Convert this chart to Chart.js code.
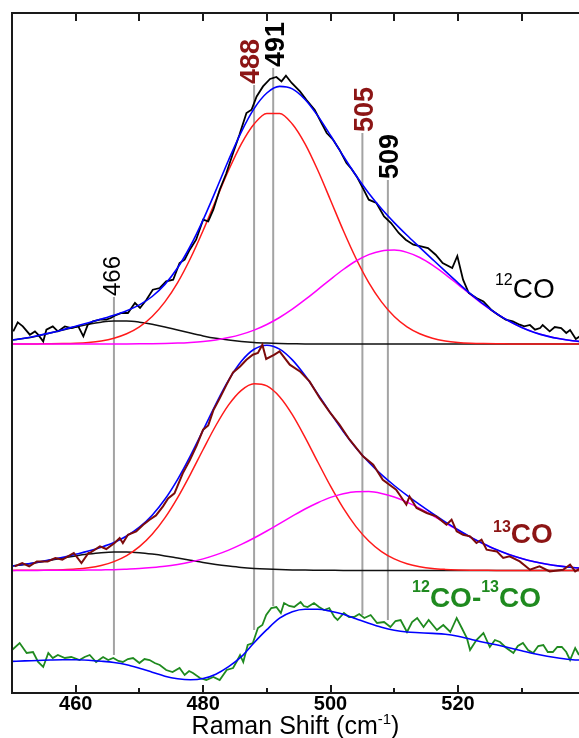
<!DOCTYPE html>
<html><head><meta charset="utf-8">
<script src="https://cdn.jsdelivr.net/npm/chart.js@4"></script>
<style>html,body{margin:0;padding:0;background:#fff}canvas{display:block}</style>
</head><body>
<canvas id="c" width="579" height="738"></canvas>
<script>
// ---------------- data ----------------
const xRange = [450, 539];
const xTicks = [460, 480, 500, 520];
const xMinorTicks = [470, 490, 510, 530];
const xTitle = ['Raman Shift (cm', '-1', ')'];

// vertical offsets of the stacked spectra (arbitrary intensity units)
const co12Offset = 349;
const co13Offset = 122.6;

// sampling grid of the fitted curves
const fitX = [450,452,454,456,458,460,462,464,466,468,470,472,474,476,478,480,482,484,486,488,
              490,492,494,496,498,500,502,504,506,508,510,512,514,516,518,520,522,524,526,528,
              530,532,534,536,538,540];

// 12CO fit components
const co12Red = [0,0,0.1,0.2,0.4,0.8,1.6,3.1,5.8,10.2, 17.1,27.5,42.1,61.4,85.5,113.5,143.8,173.7,200.1,220,
                 230.6,230.6,220,200.1,173.7,143.8,113.5,85.5,61.4,42.1, 27.5,17.1,10.2,5.8,3.1,1.6,0.8,0.4,0.2,0.1,
                 0,0,0,0,0,0];
const co12Mag = [0,0,0,0,0,0,0,0,0,0.1, 0.2,0.3,0.5,0.9,1.6,2.6,4.1,6.4,9.6,13.9,
                 19.5,26.5,34.8,44.3,54.4,64.7,74.5,83.0,89.4,93.1, 93.9,91.6,86.5,78.9,69.7,59.6,49.3,39.4,30.5,22.9,
                 16.6,11.6,7.9,5.2,3.3,2.0];
const co12Blk = [3.9,5.7,8.1,10.9,13.9,17.0,19.7,21.8,22.9,22.9, 21.8,19.7,17.0,13.9,10.9,8.1,5.7,3.9,2.5,1.5,
                 0.9,0.5,0.3,0.1,0,0,0,0,0,0, 0,0,0,0,0,0,0,0,0,0, 0,0,0,0,0,0];
const co12Fit = [3.9,5.7,8.2,11.1,14.3,17.8,21.3,24.9,28.7,33.2, 39.1,47.5,59.6,76.2,98.0,124.2,153.6,184.0,212.2,235.4,
                 251.0,257.6,255.1,244.5,228.1,208.5,188.0,168.5,150.8,135.2, 121.4,108.7,96.7,84.7,72.8,61.2,50.1,39.8,30.7,23.0,
                 16.6,11.6,7.9,5.2,3.3,2.0];

// 13CO fit components
const co13Red = [0,0.1,0.1,0.3,0.7,1.4,2.7,5.0,8.8,14.8, 23.7,36.1,52.5,72.8,96.1,120.9,144.9,165.5,180.1,186.7,
                 184.5,173.7,155.8,133.1,108.4,84.2,62.2,43.8,29.4,18.8, 11.5,6.7,3.7,1.9,1.0,0.5,0.2,0.1,0,0,
                 0,0,0,0,0,0];
const co13Mag = [0,0,0,0.1,0.1,0.2,0.3,0.5,0.7,1.2, 1.8,2.8,4.1,6.0,8.4,11.5,15.5,20.3,26.0,32.4,
                 39.4,46.8,54.2,61.4,67.7,73.0,76.7,78.7,78.8,77.0, 73.4,68.3,62.0,55.0,47.5,40.1,33.0,26.6,20.8,15.9,
                 11.9,8.7,6.2,4.3,2.9,1.9];
const co13Blk = [4.4,6.0,7.9,10.1,12.3,14.5,16.3,17.7,18.4,18.4, 17.7,16.3,14.5,12.3,10.1,7.9,6.0,4.4,3.0,2.0,
                 1.3,0.8,0.5,0.3,0.2,0.1,0,0,0,0, 0,0,0,0,0,0,0,0,0,0, 0,0,0,0,0,0];
const co13Fit = [4.4,6.1,8.1,10.5,13.1,16.1,19.3,23.2,27.9,34.4, 43.2,55.2,71.1,91.1,114.6,140.3,166.4,190.2,209.1,221.1,
                 225.2,221.3,210.5,194.8,176.3,157.3,138.9,122.5,108.2,95.8, 84.9,75.0,65.7,56.9,48.5,40.6,33.2,26.7,20.8,15.9,
                 11.9,8.7,6.2,4.3,2.9,1.9];

// difference spectrum fit
const diffFit = [31.6,32.1,32.5,33,33.3,33.3,32.8,31.8,30.5,28.3, 24.8,20.8,16.8,14.3,13.3,14.5,18.8,26.3,36.3,50.3,
                 63.3,74.8,81.3,83.8,83.8,81.8,78.8,74.3,69.8,65.8, 62.8,61,60.3,59.6,58.8,56.8,53.8,50.8,48.3,45.3,
                 42.3,39.3,36.8,34.8,33.3,32.8];

// measured spectra [Raman shift, intensity]
const co12Data = [[450.2,12.6],[450.9,21.6],[451.7,17.6],[452.8,9.3],[453.6,12.6],[454.1,9.3],[454.9,2.6],[455.4,14.3],
  [456.4,17.6],[457.2,12.6],[458.3,17.6],[459.3,16],[460.4,17.6],[461.2,7.6],[461.9,19.3],[462.7,22.6],[463.8,24.3],
  [464.8,24.3],[465.5,26],[466.1,28.3],[467.2,31],[468.2,31],[469.3,41],[470.1,36],[471.1,44.3],[472.1,54.3],[473.2,56],
  [474.2,62.6],[475.3,64.3],[476.3,81],[477.1,84.3],[477.9,94.3],[478.9,104.3],[480.0,124.3],[480.8,122.6],[481.6,134.3],
  [482.6,154.3],[483.6,170],[484.7,191],[485.7,209.3],[486.8,231],[487.6,234.3],[488.4,247.6],[489.4,257.6],[490.5,265],
  [491.5,267],[492.3,262.6],[493.0,268.3],[493.9,261],[495.2,252.6],[496.2,244.3],[497.5,234.3],[498.5,222],[499.4,211],
  [500.4,204.3],[501.4,194.3],[502.5,181],[503.3,175],[504.1,167.6],[505.2,154.3],[506.0,144.3],[507.2,141],[508.4,127.6],
  [509.5,121],[510.7,111],[511.8,104.3],[513.0,99.3],[514.2,97.6],[515.3,96],[516.5,89.3],[517.6,81],[519.1,76],[519.9,88],
  [520.8,64.3],[521.7,51],[522.9,46],[524.0,42.6],[525.2,34.3],[526.3,29.3],[527.5,24.3],[528.6,22.6],[529.7,19.3],
  [530.4,17.6],[531.3,19],[532.1,14.3],[532.9,16],[533.3,19],[534.4,12.6],[535.2,17],[536.2,16],[537.0,11],[537.6,14],[538.5,5],[539.2,8]];

const co13Data = [[450.4,4],[451.6,7.4],[452.7,4],[453.9,9],[455.6,9],[456.8,12.4],[457.9,10.7],[459.7,17.4],[460.9,7.4],
  [462.0,17.4],[462.2,17.4],[463.8,24],[464.8,21.4],[466.1,27.4],[466.9,32.4],[467.4,27.4],[468.2,35.7],[469.5,39],
  [470.6,45.7],[471.6,50.7],[472.6,55],[473.7,64],[474.5,72],[475.5,77],[476.8,97],[477.9,110],[479.0,125],[480.0,140.7],
  [480.8,145],[481.6,160],[482.6,172],[483.7,186],[484.7,198],[485.8,204],[486.8,210.7],[487.8,215.7],[488.6,217.4],
  [489.3,225.7],[489.9,211.4],[491.2,215.7],[492.0,219],[493.6,205.7],[495.2,199],[496.7,189],[498.3,172.4],[499.9,158],
  [501.4,145.7],[503.0,130.7],[505.1,114],[506.7,105.7],[508.2,90.7],[510.3,80.7],[511.9,65.7],[512.4,74],[513.5,62.4],
  [515.1,57.4],[516.6,54],[518.2,45.7],[519.0,50.7],[519.8,39],[520.8,35.7],[521.9,34],[522.9,27.4],[523.7,30.7],
  [524.5,20.7],[526.1,19],[527.1,12.4],[528.1,14],[529.7,9],[531.3,0.7],[532.8,4],[534.4,-1],[536.5,0.7],[537.6,5.7],[538.4,-1],[539.2,2]];

const diffData = [[450.0,43],[451.2,50],[452.3,40],[453.3,41],[454.1,31],[454.9,26],[455.7,40],[456.4,35],[457.2,38],
  [458.3,35],[459.3,36],[460.6,33],[461.4,36],[462.2,38],[463.2,31],[464.3,36],[465.1,33],[465.9,35],[466.7,32],
  [467.4,31],[468.2,34],[469.0,35],[470.0,30],[470.8,34],[471.6,33],[472.4,30],[473.2,28],[474.2,23],[475.2,21],
  [476.3,25],[477.1,18],[477.8,22],[478.4,20],[479.5,15],[480.5,13],[481.6,16],[482.6,13],[483.7,23],[484.7,25],
  [485.4,33],[485.8,38],[486.3,31],[487.0,48],[487.8,50],[488.6,65],[489.3,68],[489.9,78],[490.7,85],[491.5,86],
  [492.2,80],[492.7,90],[493.5,87],[494.3,86],[495.3,91],[495.8,87],[496.4,86],[497.4,90],[498.2,86],[499.0,83],
  [499.8,85],[500.6,76],[501.1,73],[502.1,80],[502.9,76],[503.7,76],[504.5,79],[505.3,75],[506.3,78],[507.3,70],
  [508.4,71],[509.4,66],[510.2,72],[511.0,73],[512.0,61],[512.8,71],[513.6,75],[514.6,66],[515.4,73],[516.7,63],
  [517.7,68],[518.8,61],[519.8,75],[520.6,65],[521.4,55],[521.9,43],[522.9,53],[524.0,60],[525.0,46],[525.8,53],
  [526.6,51],[527.6,45],[528.7,40],[529.4,47],[530.2,50],[531.0,43],[531.8,40],[532.6,47],[533.4,48],[534.1,41],
  [534.9,41],[535.6,46],[536.3,46],[537.0,41],[537.6,33],[538.4,45],[539.0,38]];

// peak markers: position, label, vertical extent (intensity units)
const peakPos = [466, 488, 491, 505, 509];
const peakLabels = ['466', '488', '491', '505', '509'];
const peakTop = [396, 608, 625, 560, 513];
const peakBottom = [38, 63, 87, 78, 73];

// ---------------- styles / layout ----------------
const FONT = "'Liberation Sans', Arial, Helvetica, sans-serif";
const C_RED = '#ff1a1a', C_MAG = '#ff00ff', C_BLUE = '#0000ff', C_BLK = '#111111';
const C_DRED = '#7c0b0b', C_LRED = '#8c1515', C_GREEN = '#1f8a1f', C_GRAY = '#a3a3a3';
const peakStyle = [
  {dx: -2.6, size: 24, weight: 'normal', color: '#000'},
  {dx: -5, size: 27, weight: 'bold', color: C_LRED},
  {dx: 1.6, size: 27, weight: 'bold', color: '#000'},
  {dx: 0.8, size: 27, weight: 'bold', color: C_LRED},
  {dx: 0.3, size: 27, weight: 'bold', color: '#000'}
];
const seriesLabels = [
  {x: 525.8, y: 395, color: '#000', weight: 'normal', parts: [['12', 16, -13], ['CO', 28, 0]]},
  {x: 525.5, y: 150, color: C_LRED, weight: 'bold', parts: [['13', 16, -11], ['CO', 28, 0]]},
  {x: 512.8, y: 86, color: C_GREEN, weight: 'bold', parts: [['12', 16, -15], ['CO-', 28, 0], ['13', 16, -15], ['CO', 28, 0]]}
];

const curve = (xs, ys, off) => xs.map((x, i) => ({x: x, y: ys[i] + off}));
const pts = (arr, off) => arr.map(p => ({x: p[0], y: p[1] + off}));

function smooth(data, color, width, order) {
  return {data, borderColor: color, borderWidth: width, pointRadius: 0, fill: false,
          cubicInterpolationMode: 'monotone', order};
}
function noisy(data, color, width, order) {
  return {data, borderColor: color, borderWidth: width, pointRadius: 0, fill: false, tension: 0, order};
}

const datasets = [];
peakPos.forEach((p, i) => {
  datasets.push({data: [{x: p, y: peakBottom[i]}, {x: p, y: peakTop[i]}], borderColor: C_GRAY,
                 borderWidth: 2, pointRadius: 0, fill: false, order: 100});
});
datasets.push(smooth(curve(fitX, co12Blk, co12Offset), C_BLK, 1.5, 90));
datasets.push(smooth(curve(fitX, co12Red, co12Offset), C_RED, 1.5, 85));
datasets.push(smooth(curve(fitX, co12Mag, co12Offset), C_MAG, 1.5, 80));
datasets.push(noisy(pts(co12Data, co12Offset), '#000', 1.8, 60));
datasets.push(smooth(curve(fitX, co12Fit, co12Offset), C_BLUE, 1.6, 55));
datasets.push(smooth(curve(fitX, co13Blk, co13Offset), C_BLK, 1.5, 90));
datasets.push(smooth(curve(fitX, co13Red, co13Offset), C_RED, 1.5, 85));
datasets.push(smooth(curve(fitX, co13Mag, co13Offset), C_MAG, 1.5, 80));
datasets.push(smooth(curve(fitX, co13Fit, co13Offset), C_BLUE, 1.6, 58));
datasets.push(noisy(pts(co13Data, co13Offset), C_DRED, 2, 50));
datasets.push(noisy(pts(diffData, 0), C_GREEN, 1.8, 60));
datasets.push(smooth(curve(fitX, diffFit, 0), C_BLUE, 1.6, 55));

const decor = {
  id: 'decor',
  afterDraw(chart) {
    const ctx = chart.ctx, a = chart.chartArea;
    const xs = chart.scales.x, ys = chart.scales.y;
    ctx.save();
    // frame
    ctx.strokeStyle = '#1a1a1a'; ctx.lineWidth = 2;
    ctx.beginPath();
    ctx.moveTo(a.right + 2, a.top); ctx.lineTo(a.left, a.top); ctx.lineTo(a.left, a.bottom); ctx.lineTo(a.right + 2, a.bottom);
    ctx.stroke();
    // ticks (inward)
    ctx.lineWidth = 2;
    ctx.beginPath();
    xTicks.forEach(v => { const px = Math.round(xs.getPixelForValue(v));
      ctx.moveTo(px, a.bottom); ctx.lineTo(px, a.bottom - 8);
      ctx.moveTo(px, a.top); ctx.lineTo(px, a.top + 8); });
    xMinorTicks.forEach(v => { const px = Math.round(xs.getPixelForValue(v));
      ctx.moveTo(px, a.bottom); ctx.lineTo(px, a.bottom - 5);
      ctx.moveTo(px, a.top); ctx.lineTo(px, a.top + 8); });
    ctx.stroke();
    // peak labels (rotated)
    peakPos.forEach((p, i) => {
      const st = peakStyle[i];
      const px = xs.getPixelForValue(p) + st.dx;
      const py = ys.getPixelForValue(peakTop[i]) - 1;
      ctx.save();
      ctx.translate(px, py); ctx.rotate(-Math.PI / 2);
      ctx.font = st.weight + ' ' + st.size + 'px ' + FONT;
      ctx.fillStyle = st.color; ctx.textAlign = 'left'; ctx.textBaseline = 'alphabetic';
      ctx.fillText(peakLabels[i], 0, st.size * 0.716 / 2);
      ctx.restore();
    });
    // series labels
    seriesLabels.forEach(l => {
      let px = xs.getPixelForValue(l.x);
      const py = ys.getPixelForValue(l.y);
      ctx.fillStyle = l.color; ctx.textAlign = 'left'; ctx.textBaseline = 'alphabetic';
      l.parts.forEach(([t, size, dy]) => {
        ctx.font = l.weight + ' ' + size + 'px ' + FONT;
        ctx.fillText(t, px, py + dy);
        px += ctx.measureText(t).width;
      });
    });
    // axis title
    const parts = [[xTitle[0], 25, 0], [xTitle[1], 15, -10], [xTitle[2], 25, 0]];
    let total = 0;
    parts.forEach(([t, s]) => { ctx.font = 'normal ' + s + 'px ' + FONT; total += ctx.measureText(t).width; });
    let tx = (a.left + a.right) / 2 - total / 2;
    ctx.fillStyle = '#000';
    parts.forEach(([t, s, dy]) => {
      ctx.font = 'normal ' + s + 'px ' + FONT;
      ctx.fillText(t, tx, 734 + dy);
      tx += ctx.measureText(t).width;
    });
    ctx.restore();
  }
};

new Chart(document.getElementById('c'), {
  type: 'line',
  data: {datasets},
  options: {
    responsive: false, animation: false, devicePixelRatio: 1,
    layout: {padding: {top: 13, left: 12, right: 0, bottom: 0}},
    plugins: {legend: {display: false}, tooltip: {enabled: false}},
    scales: {
      x: {type: 'linear', min: xRange[0], max: xRange[1],
          grid: {display: false, drawTicks: false}, border: {display: false},
          afterBuildTicks: s => { s.ticks = xTicks.map(v => ({value: v})); },
          afterFit: s => { s.height = 45; },
          ticks: {padding: -1, color: '#000', maxRotation: 0, autoSkip: false,
                  font: {family: FONT, size: 20, weight: 'bold'},
                  callback: v => String(v)}},
      y: {type: 'linear', min: 0, max: 680, display: false}
    }
  },
  plugins: [decor]
});
</script>
</body></html>
